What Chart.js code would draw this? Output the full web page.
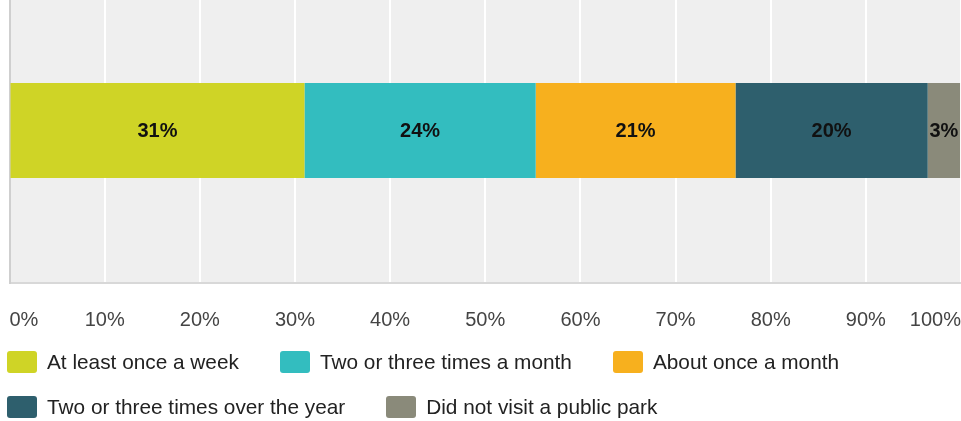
<!DOCTYPE html>
<html>
<head>
<meta charset="utf-8">
<script src="https://cdn.jsdelivr.net/npm/chart.js@4/dist/chart.umd.min.js"></script>
<style>
  html, body { margin: 0; padding: 0; background: #ffffff; width: 961px; height: 421px; overflow: hidden; position: relative; }
  #wrap { position: absolute; left: 0; top: -22px; width: 961px; height: 385px; }
  #legend { position: absolute; left: 7px; top: 351px; width: 950px; display: flex; flex-wrap: wrap; column-gap: 41px; row-gap: 23px;
            font-family: "Liberation Sans", Arial, sans-serif; font-size: 20.8px; color: #222; }
  .item { display: flex; align-items: center; height: 22px; white-space: nowrap; }
  .box { width: 30px; height: 22px; border-radius: 3px; margin-right: 10px; }
</style>
</head>
<body>
<div id="wrap"><canvas id="c"></canvas></div>
<div id="legend"></div>
<script>
const categories = ["Visits to a public park"];
const seriesNames = ["At least once a week", "Two or three times a month", "About once a month", "Two or three times over the year", "Did not visit a public park"];
const seriesValues = [31, 24.3, 21, 20.2, 3.4];
const seriesColors = ["#cfd426", "#33bdbf", "#f7b01e", "#2e5f6d", "#8a8a7a"];
const tickValues = [0, 10, 20, 30, 40, 50, 60, 70, 80, 90, 100];

const datasets = seriesNames.map((name, i) => ({
  label: name,
  data: [seriesValues[i]],
  backgroundColor: seriesColors[i],
  borderWidth: 0,
  barPercentage: 0.312,
  categoryPercentage: 1
}));

const plotBg = {
  id: 'plotBg',
  beforeDraw(chart) {
    const {ctx, chartArea: a} = chart;
    ctx.save();
    ctx.fillStyle = '#efefef';
    ctx.fillRect(a.left, a.top, a.right - a.left, a.bottom - a.top);
    ctx.restore();
  }
};

const barLabels = {
  id: 'barLabels',
  afterDatasetsDraw(chart) {
    const ctx = chart.ctx;
    ctx.save();
    ctx.font = 'bold 20px "Liberation Sans", Arial, sans-serif';
    ctx.fillStyle = '#111';
    ctx.textAlign = 'center';
    ctx.textBaseline = 'middle';
    chart.data.datasets.forEach((ds, i) => {
      const meta = chart.getDatasetMeta(i);
      meta.data.forEach((el, j) => {
        const x = (el.x + el.base) / 2;
        ctx.fillText(Math.round(ds.data[j]) + '%', x, el.y + 1);
      });
    });
    ctx.restore();
  }
};

const htmlLegend = {
  id: 'htmlLegend',
  afterUpdate(chart) {
    const box = document.getElementById('legend');
    box.innerHTML = '';
    const items = chart.options.plugins.legend.labels.generateLabels(chart);
    items.forEach(it => {
      const d = document.createElement('div');
      d.className = 'item';
      const b = document.createElement('span');
      b.className = 'box';
      b.style.background = it.fillStyle;
      const t = document.createElement('span');
      t.textContent = it.text;
      d.appendChild(b); d.appendChild(t);
      box.appendChild(d);
    });
  }
};

new Chart(document.getElementById('c'), {
  type: 'bar',
  data: { labels: categories, datasets },
  options: {
    indexAxis: 'y',
    responsive: true,
    maintainAspectRatio: false,
    animation: false,
    layout: { padding: { left: 9.5, right: 0, top: 0, bottom: 6 } },
    plugins: {
      legend: { display: false },
      tooltip: { enabled: false }
    },
    scales: {
      x: {
        stacked: true,
        min: 0,
        max: 100,
        afterBuildTicks(scale) { scale.ticks = tickValues.map(v => ({ value: v })); },
        afterFit(scale) { scale.paddingLeft = 0; scale.paddingRight = 0; },
        ticks: {
          align: 'inner',
          padding: 25,
          color: '#444444',
          font: { family: '"Liberation Sans", Arial, sans-serif', size: 20 },
          callback: v => v + '%'
        },
        grid: {
          drawTicks: false,
          color: ctx => (ctx.index === 0 ? 'rgba(0,0,0,0)' : '#ffffff'),
          lineWidth: 2
        },
        border: { display: true, color: '#d8d8d8', width: 2 }
      },
      y: {
        stacked: true,
        ticks: { display: false },
        grid: { display: false, drawTicks: false },
        border: { display: true, color: '#cfcfcf', width: 2 }
      }
    }
  },
  plugins: [plotBg, barLabels, htmlLegend]
});
</script>
</body>
</html>
